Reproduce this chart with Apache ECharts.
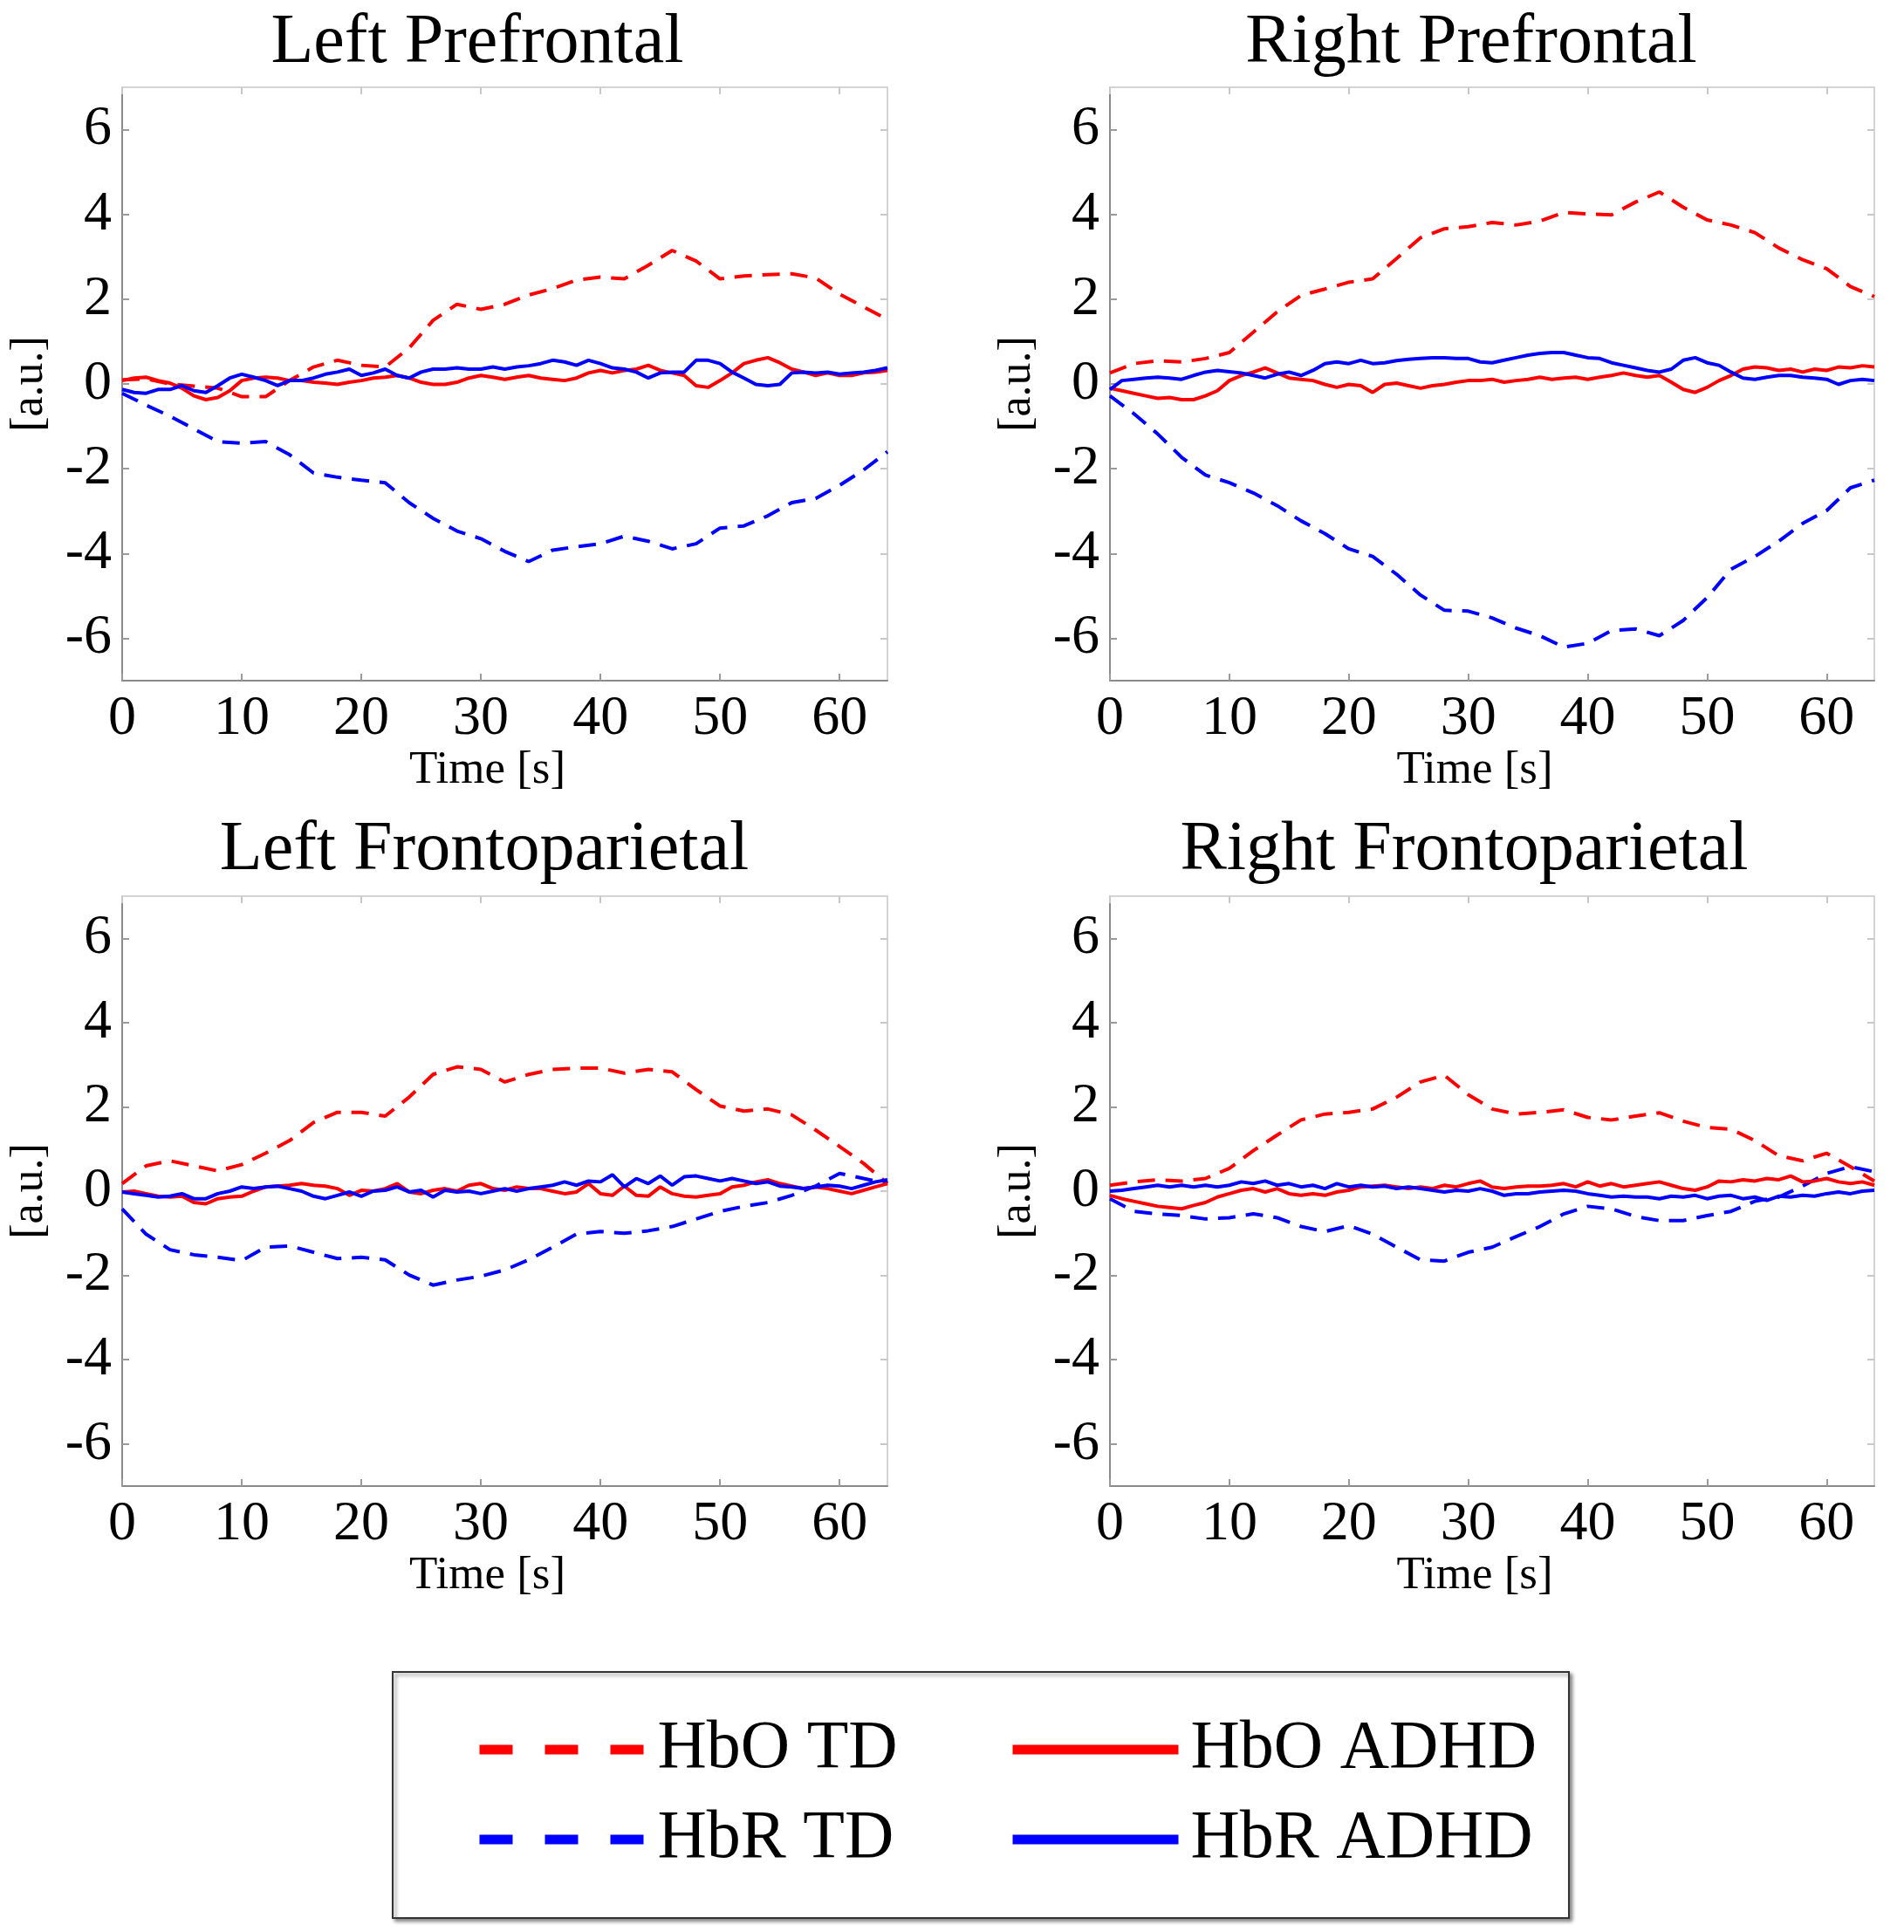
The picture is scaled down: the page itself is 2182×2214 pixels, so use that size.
<!DOCTYPE html>
<html>
<head>
<meta charset="utf-8">
<script src="https://cdn.jsdelivr.net/npm/echarts@6/dist/echarts.min.js"></script>
<style>
  html, body { margin: 0; padding: 0; background: #fff; }
  #main { width: 2182px; height: 2214px; }
</style>
</head>
<body>
<div id="main"></div>
<script>
var myChart = echarts.init(document.getElementById("main"));

// sample times [s]
var tdTime = [0, 2, 4, 6, 8, 10, 12, 14, 16, 18, 20, 22, 24, 26, 28, 30, 32, 34, 36, 38, 40, 42, 44, 46, 48, 50, 52, 54, 56, 58, 60, 62, 64];
var adhdTime = [0, 1, 2, 3, 4, 5, 6, 7, 8, 9, 10, 11, 12, 13, 14, 15, 16, 17, 18, 19, 20, 21, 22, 23, 24, 25, 26, 27, 28, 29, 30, 31, 32, 33, 34, 35, 36, 37, 38, 39, 40, 41, 42, 43, 44, 45, 46, 47, 48, 49, 50, 51, 52, 53, 54, 55, 56, 57, 58, 59, 60, 61, 62, 63, 64];

var xTicks = [0, 10, 20, 30, 40, 50, 60];
var yTicks = [-6, -4, -2, 0, 2, 4, 6];

var panelTitles = ["Left Prefrontal", "Right Prefrontal", "Left Frontoparietal", "Right Frontoparietal"];
var legendNames = ["HbO TD", "HbR TD", "HbO ADHD", "HbR ADHD"];

// Left Prefrontal
var lpHbOTD = [0.1, 0.12, 0.0, -0.05, -0.1, -0.3, -0.3, 0.08, 0.4, 0.56, 0.44, 0.4, 0.85, 1.5, 1.88, 1.76, 1.88, 2.1, 2.25, 2.45, 2.52, 2.48, 2.8, 3.15, 2.9, 2.48, 2.55, 2.58, 2.6, 2.5, 2.12, 1.82, 1.52];
var lpHbRTD = [-0.22, -0.5, -0.76, -1.06, -1.36, -1.4, -1.36, -1.67, -2.1, -2.2, -2.27, -2.33, -2.8, -3.17, -3.47, -3.65, -3.95, -4.19, -3.92, -3.84, -3.77, -3.59, -3.71, -3.89, -3.77, -3.4, -3.35, -3.11, -2.8, -2.7, -2.39, -2.03, -1.6];
var lpHbOADHD = [0.08, 0.14, 0.16, 0.08, 0.02, -0.10, -0.28, -0.37, -0.32, -0.16, 0.08, 0.14, 0.16, 0.14, 0.08, 0.08, 0.04, 0.02, -0.01, 0.04, 0.08, 0.14, 0.16, 0.20, 0.14, 0.04, -0.01, -0.01, 0.04, 0.14, 0.20, 0.16, 0.11, 0.16, 0.20, 0.14, 0.11, 0.08, 0.14, 0.26, 0.32, 0.26, 0.32, 0.35, 0.44, 0.32, 0.26, 0.20, -0.04, -0.08, 0.08, 0.26, 0.48, 0.56, 0.62, 0.50, 0.35, 0.28, 0.20, 0.26, 0.20, 0.20, 0.26, 0.28, 0.32];
var lpHbRADHD = [-0.13, -0.20, -0.22, -0.13, -0.13, -0.04, -0.16, -0.20, -0.04, 0.14, 0.23, 0.16, 0.08, -0.04, 0.08, 0.08, 0.14, 0.23, 0.28, 0.35, 0.20, 0.26, 0.35, 0.20, 0.14, 0.28, 0.35, 0.35, 0.38, 0.35, 0.35, 0.40, 0.35, 0.40, 0.43, 0.48, 0.56, 0.52, 0.44, 0.56, 0.48, 0.38, 0.35, 0.28, 0.14, 0.26, 0.28, 0.28, 0.56, 0.56, 0.48, 0.28, 0.14, -0.01, -0.04, -0.01, 0.26, 0.28, 0.26, 0.28, 0.23, 0.26, 0.28, 0.32, 0.38];

// Right Prefrontal
var rpHbOTD = [0.26, 0.48, 0.55, 0.52, 0.6, 0.74, 1.22, 1.7, 2.09, 2.24, 2.4, 2.48, 2.96, 3.45, 3.66, 3.71, 3.81, 3.75, 3.84, 4.05, 4.01, 3.99, 4.29, 4.53, 4.17, 3.87, 3.75, 3.57, 3.21, 2.93, 2.72, 2.3, 2.06];
var rpHbRTD = [-0.28, -0.7, -1.18, -1.73, -2.15, -2.33, -2.57, -2.87, -3.23, -3.53, -3.89, -4.07, -4.49, -4.98, -5.34, -5.36, -5.52, -5.76, -5.94, -6.21, -6.12, -5.82, -5.78, -5.94, -5.58, -5.04, -4.37, -4.07, -3.71, -3.29, -2.99, -2.45, -2.27];
var rpHbOADHD = [-0.10, -0.16, -0.22, -0.28, -0.34, -0.32, -0.37, -0.37, -0.28, -0.16, 0.08, 0.20, 0.28, 0.38, 0.26, 0.14, 0.11, 0.08, -0.01, -0.08, -0.01, -0.04, -0.20, -0.01, 0.02, -0.04, -0.10, -0.04, -0.01, 0.04, 0.08, 0.08, 0.11, 0.04, 0.08, 0.11, 0.16, 0.11, 0.14, 0.16, 0.11, 0.16, 0.20, 0.26, 0.20, 0.16, 0.20, 0.04, -0.13, -0.20, -0.08, 0.08, 0.20, 0.35, 0.40, 0.38, 0.32, 0.35, 0.28, 0.35, 0.32, 0.40, 0.38, 0.43, 0.40];
var rpHbRADHD = [-0.13, 0.08, 0.11, 0.14, 0.16, 0.14, 0.11, 0.20, 0.28, 0.32, 0.29, 0.26, 0.20, 0.14, 0.23, 0.28, 0.20, 0.32, 0.48, 0.52, 0.48, 0.56, 0.48, 0.50, 0.55, 0.58, 0.60, 0.62, 0.62, 0.60, 0.60, 0.52, 0.50, 0.56, 0.62, 0.68, 0.72, 0.74, 0.74, 0.68, 0.62, 0.60, 0.50, 0.44, 0.38, 0.32, 0.28, 0.35, 0.56, 0.62, 0.50, 0.44, 0.28, 0.14, 0.11, 0.16, 0.20, 0.20, 0.16, 0.14, 0.11, -0.01, 0.08, 0.11, 0.08];

// Left Frontoparietal
var lfHbOTD = [0.18, 0.6, 0.72, 0.6, 0.48, 0.63, 0.9, 1.2, 1.63, 1.87, 1.87, 1.78, 2.23, 2.77, 2.95, 2.89, 2.59, 2.77, 2.89, 2.92, 2.92, 2.8, 2.89, 2.83, 2.41, 2.02, 1.9, 1.95, 1.81, 1.45, 1.06, 0.66, 0.18];
var lfHbRTD = [-0.42, -1.02, -1.39, -1.51, -1.57, -1.65, -1.33, -1.3, -1.45, -1.6, -1.57, -1.63, -1.99, -2.23, -2.11, -2.02, -1.87, -1.63, -1.33, -1.02, -0.96, -1.0, -0.94, -0.84, -0.66, -0.48, -0.36, -0.27, -0.1, 0.12, 0.42, 0.3, 0.18];
var lfHbOADHD = [-0.02, 0, -0.06, -0.12, -0.14, -0.12, -0.27, -0.30, -0.18, -0.14, -0.12, 0, 0.10, 0.12, 0.14, 0.18, 0.14, 0.12, 0.06, -0.10, 0.02, 0, 0.06, 0.18, -0.02, -0.06, 0.02, 0.06, 0, 0.14, 0.18, 0.06, 0.02, 0.10, 0.06, 0.06, 0, -0.06, -0.02, 0.18, -0.06, -0.10, 0.12, -0.10, -0.12, 0.10, -0.06, -0.12, -0.14, -0.10, -0.06, 0.10, 0.14, 0.22, 0.27, 0.18, 0.12, 0.06, 0.10, 0.06, 0, -0.06, 0.02, 0.10, 0.18];
var lfHbRADHD = [-0.02, -0.06, -0.10, -0.14, -0.12, -0.06, -0.18, -0.18, -0.06, 0, 0.10, 0.06, 0.10, 0.12, 0.06, 0, -0.12, -0.18, -0.10, -0.02, -0.12, 0, 0.02, 0.10, -0.02, 0.02, -0.14, 0.02, -0.02, 0, -0.06, 0, 0.06, 0, 0.06, 0.10, 0.14, 0.22, 0.14, 0.24, 0.22, 0.39, 0.10, 0.30, 0.18, 0.36, 0.14, 0.34, 0.36, 0.30, 0.24, 0.30, 0.24, 0.18, 0.22, 0.12, 0.10, 0.06, 0.10, 0.14, 0.12, 0.06, 0.14, 0.22, 0.27];

// Right Frontoparietal
var rfHbOTD = [0.14, 0.22, 0.27, 0.24, 0.3, 0.54, 0.96, 1.33, 1.69, 1.83, 1.87, 1.95, 2.23, 2.59, 2.75, 2.29, 1.95, 1.83, 1.87, 1.93, 1.75, 1.69, 1.78, 1.86, 1.66, 1.51, 1.47, 1.2, 0.84, 0.72, 0.9, 0.58, 0.24];
var rfHbRTD = [-0.18, -0.48, -0.54, -0.58, -0.66, -0.63, -0.54, -0.63, -0.84, -0.96, -0.82, -1.02, -1.33, -1.63, -1.66, -1.45, -1.33, -1.08, -0.84, -0.54, -0.36, -0.42, -0.6, -0.7, -0.7, -0.58, -0.48, -0.24, -0.14, 0.12, 0.42, 0.58, 0.46];
var rfHbOADHD = [-0.10, -0.18, -0.24, -0.30, -0.36, -0.39, -0.42, -0.34, -0.27, -0.14, -0.06, 0.02, 0.06, -0.02, 0.06, -0.06, -0.10, -0.06, -0.10, -0.02, 0.02, 0.10, 0.12, 0.14, 0.10, 0.06, 0.10, 0.06, 0.14, 0.10, 0.18, 0.24, 0.10, 0.06, 0.10, 0.12, 0.12, 0.14, 0.18, 0.10, 0.22, 0.12, 0.18, 0.10, 0.14, 0.18, 0.22, 0.14, 0.06, 0.02, 0.10, 0.24, 0.22, 0.27, 0.24, 0.30, 0.27, 0.36, 0.22, 0.24, 0.30, 0.22, 0.18, 0.22, 0.14];
var rfHbRADHD = [0, 0.02, 0.06, 0.10, 0.14, 0.10, 0.14, 0.10, 0.14, 0.10, 0.14, 0.22, 0.18, 0.24, 0.14, 0.18, 0.10, 0.14, 0.06, 0.18, 0.10, 0.14, 0.10, 0.12, 0.06, 0.10, 0.06, 0.02, -0.02, 0.02, 0, 0.06, 0, -0.10, -0.06, -0.06, -0.02, 0, 0.02, 0, -0.06, -0.10, -0.14, -0.12, -0.14, -0.14, -0.18, -0.12, -0.14, -0.10, -0.18, -0.12, -0.10, -0.18, -0.14, -0.22, -0.12, -0.14, -0.10, -0.12, -0.06, -0.02, -0.06, 0, 0.02];

var panels = [
  [lpHbOTD, lpHbRTD, lpHbOADHD, lpHbRADHD],
  [rpHbOTD, rpHbRTD, rpHbOADHD, rpHbRADHD],
  [lfHbOTD, lfHbRTD, lfHbOADHD, lfHbRADHD],
  [rfHbOTD, rfHbRTD, rfHbOADHD, rfHbRADHD]
];

var RED = "#ff0000";
var BLUE = "#0000ff";
var FONT = "Liberation Serif";
var DASH = [20, 12];

var gridBoxes = [
  { left: 140, top: 100, width: 877, height: 680 },
  { left: 1272, top: 100, width: 876, height: 680 },
  { left: 140, top: 1027, width: 877, height: 676 },
  { left: 1272, top: 1027, width: 876, height: 676 }
];
var titlePos = [[547, 50], [1686, 50], [555, 975], [1678, 975]];

var grids = [], xAxes = [], yAxes = [], series = [], graphics = [];

gridBoxes.forEach(function (b, g) {
  grids.push({ left: b.left, top: b.top, width: b.width, height: b.height, containLabel: false });

  // bottom axis (labelled)
  xAxes.push({
    type: "value", gridIndex: g, min: 0, max: 64, position: "bottom",
    name: "Time [s]", nameLocation: "middle", nameGap: 76,
    nameTextStyle: { fontFamily: FONT, fontSize: 53, color: "#000", padding: [0, 40, 0, 0] },
    axisLine: { onZero: false, lineStyle: { color: "#8a8a8a", width: 2 } },
    axisTick: { inside: true, length: 8, lineStyle: { color: "#9a9a9a", width: 2 }, customValues: xTicks },
    axisLabel: { fontFamily: FONT, fontSize: 64, color: "#000", margin: 12, customValues: xTicks },
    splitLine: { show: false }
  });
  // top mirror
  xAxes.push({
    type: "value", gridIndex: g, min: 0, max: 64, position: "top",
    axisLine: { onZero: false, lineStyle: { color: "#d4d4d4", width: 2 } },
    axisTick: { inside: true, length: 8, lineStyle: { color: "#c8c8c8", width: 2 }, customValues: xTicks },
    axisLabel: { show: false },
    splitLine: { show: false }
  });
  // left axis (labelled)
  yAxes.push({
    type: "value", gridIndex: g, min: -7, max: 7, position: "left",
    name: "[a.u.]", nameLocation: "middle", nameGap: 80, nameRotate: 90,
    nameTextStyle: { fontFamily: FONT, fontSize: 52, color: "#000" },
    axisLine: { show: true, onZero: false, lineStyle: { color: "#8a8a8a", width: 2 } },
    axisTick: { show: true, inside: true, length: 8, lineStyle: { color: "#9a9a9a", width: 2 }, customValues: yTicks },
    axisLabel: { fontFamily: FONT, fontSize: 64, color: "#000", margin: 12, customValues: yTicks },
    splitLine: { show: false }
  });
  // right mirror
  yAxes.push({
    type: "value", gridIndex: g, min: -7, max: 7, position: "right",
    axisLine: { show: true, onZero: false, lineStyle: { color: "#d4d4d4", width: 2 } },
    axisTick: { show: true, inside: true, length: 8, lineStyle: { color: "#c8c8c8", width: 2 }, customValues: yTicks },
    axisLabel: { show: false },
    splitLine: { show: false }
  });

  var d = panels[g];
  var defs = [
    { name: "HbO TD", t: tdTime, v: d[0], color: RED, dash: DASH },
    { name: "HbR TD", t: tdTime, v: d[1], color: BLUE, dash: DASH },
    { name: "HbO ADHD", t: adhdTime, v: d[2], color: RED, dash: "solid" },
    { name: "HbR ADHD", t: adhdTime, v: d[3], color: BLUE, dash: "solid" }
  ];
  defs.forEach(function (s) {
    series.push({
      type: "line", name: s.name,
      xAxisIndex: g * 2, yAxisIndex: g * 2,
      data: s.t.map(function (t, i) { return [t, s.v[i]]; }),
      symbol: "none",
      lineStyle: { color: s.color, width: 4, type: s.dash },
      itemStyle: { color: s.color },
      animation: false
    });
  });

  graphics.push({
    type: "text", x: titlePos[g][0], y: titlePos[g][1],
    style: { text: panelTitles[g], font: "80px '" + FONT + "'", fill: "#000", align: "center", verticalAlign: "middle" }
  });
});

// legend frame
graphics.push({
  type: "rect", z: 0,
  shape: { x: 450, y: 1916, width: 1348, height: 282 },
  style: { fill: "#fff", stroke: "#333", lineWidth: 2, shadowBlur: 4, shadowOffsetX: 3, shadowOffsetY: 3, shadowColor: "rgba(0,0,0,0.45)" }
});

function legendItems(names) {
  return names.map(function (n) {
    var dashed = n.indexOf("TD") > -1 && n.indexOf("ADHD") < 0;
    return {
      name: n,
      lineStyle: { width: 11, type: dashed ? [38, 37] : "solid", cap: "butt" }
    };
  });
}

var legendCommon = {
  orient: "vertical", selectedMode: false, top: 1965, itemGap: 23,
  itemWidth: 190, itemHeight: 12, padding: 0,
  textStyle: { fontFamily: FONT, fontSize: 78, color: "#000", lineHeight: 80, padding: [0, 0, 0, 9] }
};

var option = {
  backgroundColor: "#fff",
  grid: grids,
  xAxis: xAxes,
  yAxis: yAxes,
  legend: [
    Object.assign({}, legendCommon, { left: 544, data: legendItems([legendNames[0], legendNames[1]]) }),
    Object.assign({}, legendCommon, { left: 1155, data: legendItems([legendNames[2], legendNames[3]]) })
  ],
  graphic: graphics,
  series: series
};

myChart.setOption(option);
</script>
</body>
</html>
